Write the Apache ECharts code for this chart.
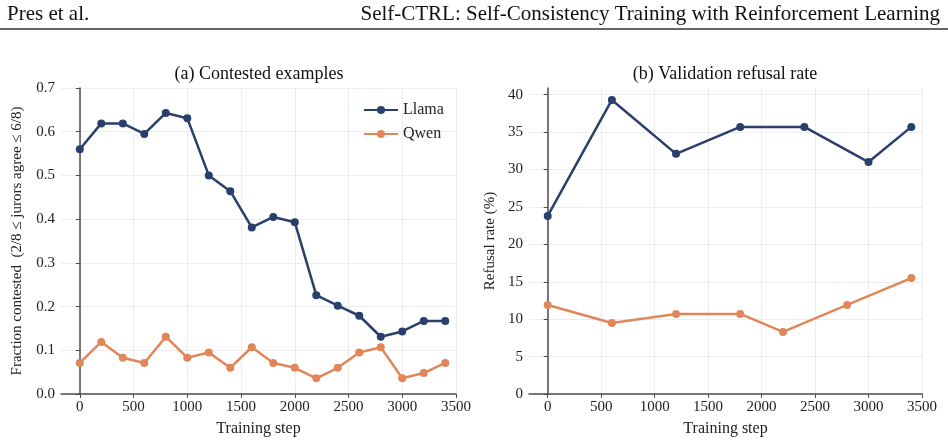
<!DOCTYPE html>
<html>
<head>
<meta charset="utf-8">
<script src="https://cdn.jsdelivr.net/npm/echarts@6/dist/echarts.min.js"></script>
<style>
  html, body { margin: 0; padding: 0; background: #fff; }
  #chart { width: 948px; height: 443px; }
</style>
</head>
<body>
<div id="chart"></div>
<script>
// panel (a): contested examples
var stepsA = [0, 200, 400, 600, 800, 1000, 1200, 1400, 1600, 1800, 2000, 2200, 2400, 2600, 2800, 3000, 3200, 3400]
var llamaA = [0.560, 0.619, 0.619, 0.595, 0.643, 0.631, 0.500, 0.464, 0.381, 0.405, 0.393, 0.226, 0.202, 0.179, 0.131, 0.143, 0.167, 0.167]
var qwenA = [0.071, 0.119, 0.083, 0.071, 0.131, 0.083, 0.095, 0.060, 0.107, 0.071, 0.060, 0.036, 0.060, 0.095, 0.107, 0.036, 0.048, 0.071]

// panel (b): validation refusal rate
var llamaStepsB = [0, 600, 1200, 1800, 2400, 3000, 3400]
var llamaB = [23.8, 39.3, 32.1, 35.7, 35.7, 31.0, 35.7]
var qwenStepsB = [0, 600, 1200, 1800, 2200, 2800, 3400]
var qwenB = [11.9, 9.5, 10.7, 10.7, 8.3, 11.9, 15.5]

var xTicks = [0, 500, 1000, 1500, 2000, 2500, 3000, 3500]
var yTicksA = [0, 0.1, 0.2, 0.3, 0.4, 0.5, 0.6, 0.7]
var yTicksB = [0, 5, 10, 15, 20, 25, 30, 35, 40]

var FONT = '"Liberation Serif", "Times New Roman", serif'
var NAVY = '#2a3f6c'
var ORANGE = '#e0875a'
var AXIS = '#4d4d4d'
var GRID = '#ededed'

function pairs(xs, ys) {
  return xs.map(function (x, i) { return [x, ys[i]] })
}

function xAxisCfg(idx) {
  return {
    type: 'value', gridIndex: idx, min: -175, max: 3500,
    name: 'Training step', nameLocation: 'middle', nameGap: 27,
    nameTextStyle: { fontFamily: FONT, fontSize: 16, color: '#222' },
    axisLine: { show: true, lineStyle: { color: AXIS, width: 1.5 } },
    axisTick: { show: true, length: 4, customValues: xTicks, lineStyle: { color: AXIS } },
    axisLabel: { customValues: xTicks, fontFamily: FONT, fontSize: 15, color: '#222', margin: 6,
      formatter: function (v) { return String(v) } },
    splitLine: { show: true, lineStyle: { color: GRID, width: 1 } }
  }
}

function yAxisCfg(idx, name, max, ticks, gap, fmt) {
  return {
    type: 'value', gridIndex: idx, min: 0, max: max,
    name: name, nameLocation: 'middle', nameGap: gap,
    nameTextStyle: { fontFamily: FONT, fontSize: 15, color: '#222' },
    axisLine: { show: true, lineStyle: { color: AXIS, width: 1.5 } },
    axisTick: { show: true, length: 4, customValues: ticks, lineStyle: { color: AXIS } },
    axisLabel: { customValues: ticks, fontFamily: FONT, fontSize: 15, color: '#222', margin: 6, formatter: fmt },
    splitLine: { show: true, lineStyle: { color: GRID, width: 1 } }
  }
}

function lineSeries(name, data, color, xi, yi) {
  return {
    name: name, type: 'line', data: data,
    xAxisIndex: xi, yAxisIndex: yi,
    symbol: 'circle', symbolSize: 8,
    lineStyle: { color: color, width: 2.5 },
    itemStyle: { color: color },
    animation: false
  }
}

var chart = echarts.init(document.getElementById('chart'))
chart.setOption({
  backgroundColor: '#fff',
  title: [
    { text: '(a) Contested examples', left: 254, top: 60, textAlign: 'center',
      textStyle: { fontFamily: FONT, fontSize: 18, fontWeight: 'normal', color: '#111' } },
    { text: '(b) Validation refusal rate', left: 720, top: 60, textAlign: 'center',
      textStyle: { fontFamily: FONT, fontSize: 18, fontWeight: 'normal', color: '#111' } }
  ],
  graphic: [
    { type: 'text', left: 7, top: 4, style: { text: 'Pres et al.', font: '21px ' + FONT, fill: '#111' } },
    { type: 'text', right: 8, top: 4, style: { text: 'Self-CTRL: Self-Consistency Training with Reinforcement Learning', font: '21px ' + FONT, fill: '#111' } },
    { type: 'line', shape: { x1: 0, y1: 29, x2: 948, y2: 29 }, style: { stroke: '#333', lineWidth: 1.5 } }
  ],
  legend: {
    data: ['Llama', 'Qwen'], orient: 'vertical', left: 358, top: 97,
    itemWidth: 34, itemHeight: 10, itemGap: 8,
    textStyle: { fontFamily: FONT, fontSize: 16, color: '#222' }
  },
  grid: [
    { left: 61, top: 88, width: 395, height: 306 },
    { left: 529, top: 88, width: 393, height: 306 }
  ],
  xAxis: [xAxisCfg(0), xAxisCfg(1)],
  yAxis: [
    yAxisCfg(0, 'Fraction contested  (2/8 \u2264 jurors agree \u2264 6/8)', 0.7, yTicksA, 36,
      function (v) { return v.toFixed(1) }),
    yAxisCfg(1, 'Refusal rate (%)', 40.9, yTicksB, 31, function (v) { return String(v) })
  ],
  series: [
    lineSeries('Llama', pairs(stepsA, llamaA), NAVY, 0, 0),
    lineSeries('Qwen', pairs(stepsA, qwenA), ORANGE, 0, 0),
    lineSeries('Llama', pairs(llamaStepsB, llamaB), NAVY, 1, 1),
    lineSeries('Qwen', pairs(qwenStepsB, qwenB), ORANGE, 1, 1)
  ]
})
</script>
</body>
</html>
